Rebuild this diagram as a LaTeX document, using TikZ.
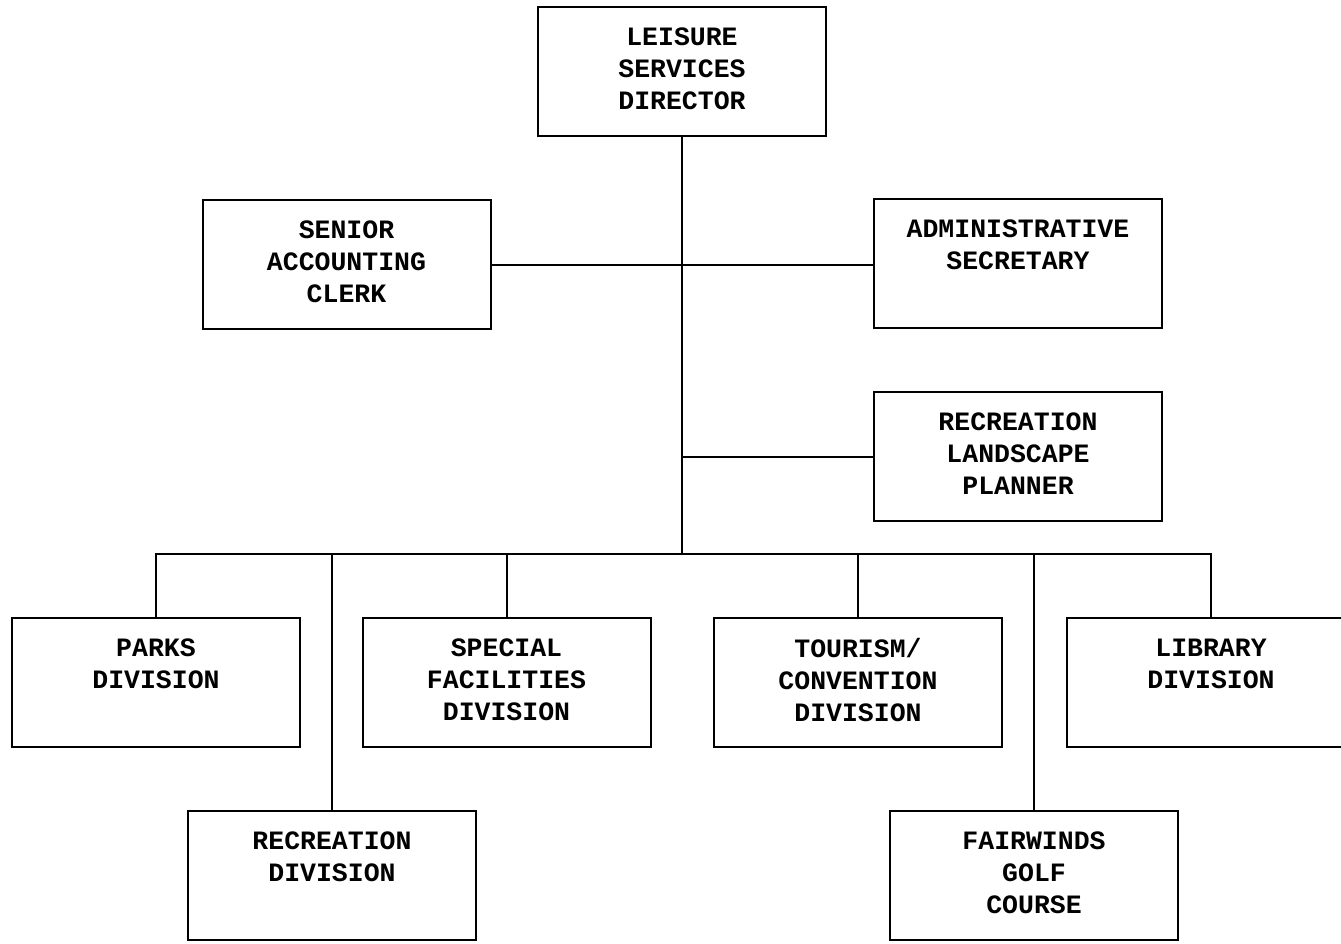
\documentclass[tikz,border=0pt]{standalone}
\usepackage{fontspec}
\setmonofont{Liberation Mono}
\begin{document}
\begin{tikzpicture}[x=1pt,y=-1pt,
  unit/.style={draw, line width=2pt, minimum width=288pt, minimum height=129pt, inner sep=0pt},
  caption/.style={anchor=north, align=center, inner sep=0pt,
    font=\ttfamily\bfseries\fontsize{26.5}{32}\selectfont},
  link/.style={line width=2pt}]
\useasboundingbox (0,0) rectangle (1341,943);
\clip (0,0) rectangle (1341,943);

% boxes
\node[unit] (dir)   at (682,71.5)   {};
\node[unit] (sac)   at (346.5,264.5) {};
\node[unit] (adm)   at (1018,263)   {};
\node[unit] (rlp)   at (1018,456.5) {};
\node[unit] (parks) at (156,682)    {};
\node[unit] (spec)  at (506.5,682)  {};
\node[unit] (tour)  at (858,682)    {};
\node[unit] (lib)   at (1211,682)   {};
\node[unit] (rec)   at (332,875.5)  {};
\node[unit] (fair)  at (1034,875.5) {};

% box titles
\path (dir.north)   ++(0,22) node[caption] {LEISURE\\SERVICES\\DIRECTOR};
\path (sac.north)   ++(0,22) node[caption] {SENIOR\\ACCOUNTING\\CLERK};
\path (adm.north)   ++(0,22) node[caption] {ADMINISTRATIVE\\SECRETARY};
\path (rlp.north)   ++(0,22) node[caption] {RECREATION\\LANDSCAPE\\PLANNER};
\path (parks.north) ++(0,22) node[caption] {PARKS\\DIVISION};
\path (spec.north)  ++(0,22) node[caption] {SPECIAL\\FACILITIES\\DIVISION};
\path (tour.north)  ++(0,22) node[caption] {TOURISM/\\CONVENTION\\DIVISION};
\path (lib.north)   ++(0,22) node[caption] {LIBRARY\\DIVISION};
\path (rec.north)   ++(0,22) node[caption] {RECREATION\\DIVISION};
\path (fair.north)  ++(0,22) node[caption] {FAIRWINDS\\GOLF\\COURSE};

% connectors
\coordinate (bus) at (683,554);
\draw[link] (dir.south) -- (dir.south |- bus);
\draw[link] (sac.east) -- (sac.east -| adm.west);
\draw[link] (dir.south |- rlp.west) -- (rlp.west);
\draw[link] (parks.north) -- (parks.north |- bus) -- (lib.north |- bus) -- (lib.north);
\draw[link] (spec.north) -- (spec.north |- bus);
\draw[link] (tour.north) -- (tour.north |- bus);
\draw[link] (rec.north) -- (rec.north |- bus);
\draw[link] (fair.north) -- (fair.north |- bus);
\end{tikzpicture}
\end{document}
